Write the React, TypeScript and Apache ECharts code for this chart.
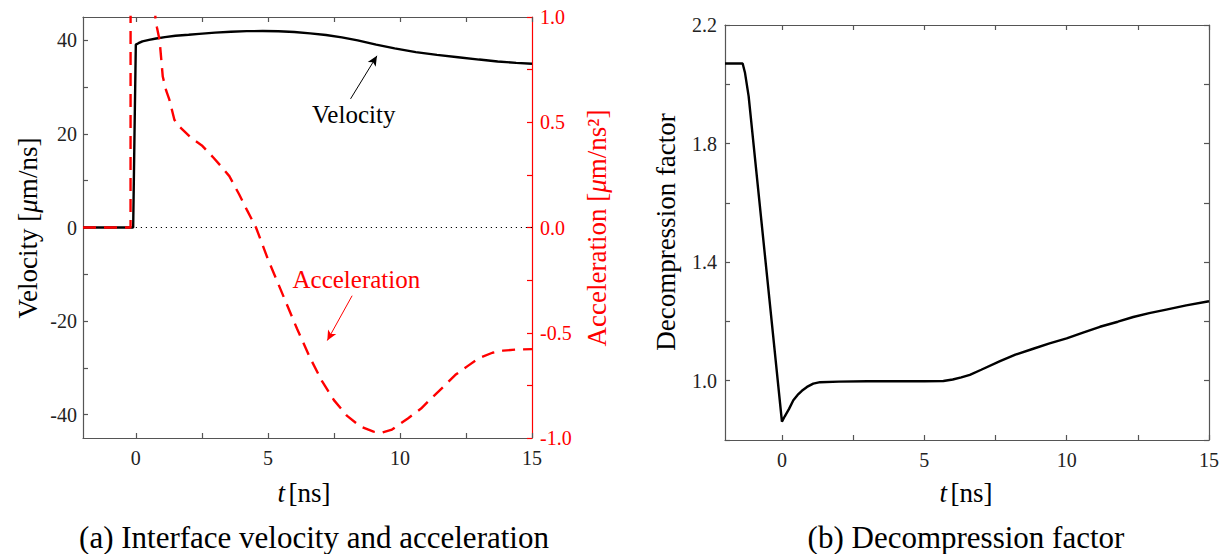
import React, { useEffect, useRef } from "react";
import * as echarts from "echarts";

// ---- Data ----
const velT = [-2, -0.1, -0.05, 0, 0.1, 0.25, 0.5, 0.77, 1.1, 1.5, 2.0, 2.4, 3.0, 3.6, 4.2, 4.8, 5.4, 6.0, 6.6, 7.2, 7.8, 8.4, 9.1, 9.8, 10.6, 11.4, 12.2, 13.0, 13.7, 14.4, 15];
const velV = [0, 0, 20, 39.1, 39.4, 39.8, 40.1, 40.4, 40.7, 41.0, 41.2, 41.4, 41.65, 41.85, 41.97, 42.0, 41.95, 41.8, 41.5, 41.15, 40.65, 40.0, 39.1, 38.3, 37.5, 36.9, 36.4, 35.9, 35.5, 35.2, 35.0];

const accT = [-2, -0.2, -0.19, 0.62, 0.74, 0.8, 0.9, 1.02, 1.15, 1.27, 1.46, 1.6, 1.77, 2.09, 2.5, 2.9, 3.2, 3.54, 3.91, 4.2, 4.55, 5.0, 5.5, 6.1, 6.6, 7.05, 7.5, 8.0, 8.5, 9.0, 9.3, 9.7, 10.3, 10.8, 11.2, 11.7, 12.1, 12.6, 13.0, 13.5, 13.9, 14.4, 15];
const accA = [0, 0, 6, 6, 1.0, 0.95, 0.89, 0.717, 0.65, 0.607, 0.512, 0.485, 0.465, 0.426, 0.39, 0.337, 0.295, 0.244, 0.158, 0.085, 0.0, -0.15, -0.3, -0.48, -0.62, -0.73, -0.82, -0.895, -0.945, -0.97, -0.975, -0.96, -0.907, -0.86, -0.81, -0.75, -0.70, -0.655, -0.62, -0.595, -0.585, -0.58, -0.578];

const decT = [-2, -1.38, -1.3, -1.17, 0, 0.1, 0.25, 0.4, 0.55, 0.7, 0.88, 1.1, 1.34, 2, 3, 4.15, 5, 5.67, 6.0, 6.3, 6.6, 7.0, 7.66, 8.2, 8.8, 9.4, 10, 10.6, 11.17, 11.8, 12.34, 12.9, 13.5, 14.2, 15];
const decD = [2.07, 2.07, 2.04, 1.96, 0.862, 0.88, 0.905, 0.934, 0.952, 0.966, 0.979, 0.99, 0.995, 0.997, 0.998, 0.998, 0.998, 0.999, 1.004, 1.011, 1.02, 1.037, 1.066, 1.088, 1.107, 1.126, 1.143, 1.163, 1.182, 1.199, 1.215, 1.228, 1.24, 1.254, 1.268];

const zeroLineT = [0, 15];

const xTickVals = [0, 2.5, 5, 7.5, 10, 12.5, 15];
const xLabelVals = [0, 5, 10, 15];
const velTickVals = [-40, -30, -20, -10, 0, 10, 20, 30, 40];
const velLabelVals = [-40, -20, 0, 20, 40];
const accTickVals = [-1, -0.75, -0.5, -0.25, 0, 0.25, 0.5, 0.75, 1];
const accLabelVals = [-1, -0.5, 0, 0.5, 1];
const decTickVals = [0.8, 1.0, 1.2, 1.4, 1.6, 1.8, 2.0, 2.2];
const decLabelVals = [1.0, 1.4, 1.8, 2.2];

const FONT = '"Liberation Serif", "Times New Roman", serif';
const AX = "#555";
const RED = "#ff0000";
const TITLE_SIZE = 27;

const zip = (a: number[], b: number[]) => a.map((x, i) => [x, b[i]]);

export default function App() {
  const ref = useRef<HTMLDivElement>(null);
  useEffect(() => {
    if (!ref.current) return;
    const chart = echarts.init(ref.current, null, { renderer: "svg" });

    const tickStyle = (color: string) => ({
      show: true,
      inside: true,
      length: 5,
      lineStyle: { color, width: 1.2 },
    });

    const xAxisBottom = (grid: number) => ({
      type: "value",
      gridIndex: grid,
      min: -2,
      max: 15,
      position: "bottom",
      axisLine: { show: true, onZero: false, lineStyle: { color: AX, width: 1.2 } },
      axisTick: { ...tickStyle(AX), customValues: xTickVals },
      axisLabel: {
        show: true,
        customValues: xLabelVals,
        margin: 10,
        fontFamily: FONT,
        fontSize: 20,
        color: "#222",
      },
      splitLine: { show: false },
    });
    const xAxisTop = (grid: number) => ({
      type: "value",
      gridIndex: grid,
      min: -2,
      max: 15,
      position: "top",
      axisLine: { show: true, onZero: false, lineStyle: { color: AX, width: 1.2 } },
      axisTick: { ...tickStyle(AX), customValues: xTickVals },
      axisLabel: { show: false },
      splitLine: { show: false },
    });

    const option: any = {
      animation: false,
      backgroundColor: "#fff",
      grid: [
        { left: 83, top: 17, width: 449, height: 421 },
        { left: 725, top: 25, width: 484, height: 415 },
      ],
      xAxis: [xAxisBottom(0), xAxisTop(0), xAxisBottom(1), xAxisTop(1)],
      yAxis: [
        {
          type: "value",
          gridIndex: 0,
          min: -45,
          max: 45,
          position: "left",
          axisLine: { show: true, onZero: false, lineStyle: { color: AX, width: 1.2 } },
          axisTick: { ...tickStyle(AX), customValues: velTickVals },
          axisLabel: {
            customValues: velLabelVals,
            margin: 6,
            fontFamily: FONT,
            fontSize: 20,
            color: "#222",
            formatter: (v: number) => String(v),
          },
          splitLine: { show: false },
        },
        {
          type: "value",
          gridIndex: 0,
          min: -1,
          max: 1,
          position: "right",
          axisLine: { show: true, onZero: false, lineStyle: { color: RED, width: 1.2 } },
          axisTick: { ...tickStyle(RED), customValues: accTickVals },
          axisLabel: {
            customValues: accLabelVals,
            margin: 8,
            fontFamily: FONT,
            fontSize: 20,
            color: RED,
            formatter: (v: number) => v.toFixed(1),
          },
          splitLine: { show: false },
        },
        {
          type: "value",
          gridIndex: 1,
          min: 0.8,
          max: 2.2,
          position: "left",
          axisLine: { show: true, onZero: false, lineStyle: { color: AX, width: 1.2 } },
          axisTick: { ...tickStyle(AX), customValues: decTickVals },
          axisLabel: {
            customValues: decLabelVals,
            margin: 8,
            fontFamily: FONT,
            fontSize: 20,
            color: "#222",
            formatter: (v: number) => v.toFixed(1),
          },
          splitLine: { show: false },
        },
        {
          type: "value",
          gridIndex: 1,
          min: 0.8,
          max: 2.2,
          position: "right",
          axisLine: { show: true, onZero: false, lineStyle: { color: AX, width: 1.2 } },
          axisTick: { ...tickStyle(AX), customValues: decTickVals },
          axisLabel: { show: false },
          splitLine: { show: false },
        },
      ],
      series: [
        {
          name: "zero",
          type: "line",
          xAxisIndex: 0,
          yAxisIndex: 0,
          data: zeroLineT.map((t) => [t, 0]),
          symbol: "none",
          lineStyle: { color: "#000", width: 1, type: [1.2, 3.8] },
          silent: true,
        },
        {
          name: "Velocity",
          type: "line",
          xAxisIndex: 0,
          yAxisIndex: 0,
          data: zip(velT, velV),
          symbol: "none",
          lineStyle: { color: "#000", width: 2.4 },
          clip: true,
          markLine: {
            silent: true,
            symbol: ["none", "arrow"],
            symbolSize: [7, 10],
            label: { show: false },
            lineStyle: { color: "#000", width: 1, type: "solid" },
            data: [[{ coord: [8.13, 27.5] }, { coord: [9.13, 36.7] }]],
          },
        },
        {
          name: "Acceleration",
          type: "line",
          xAxisIndex: 0,
          yAxisIndex: 1,
          data: zip(accT, accA),
          symbol: "none",
          lineStyle: { color: RED, width: 2.4, type: [13, 8] },
          clip: true,
          markLine: {
            silent: true,
            symbol: ["none", "arrow"],
            symbolSize: [7, 10],
            label: { show: false },
            lineStyle: { color: RED, width: 1, type: "solid" },
            data: [[{ coord: [8.19, -0.324] }, { coord: [7.25, -0.537] }]],
          },
        },
        {
          name: "Decompression factor",
          type: "line",
          xAxisIndex: 2,
          yAxisIndex: 2,
          data: zip(decT, decD),
          symbol: "none",
          lineStyle: { color: "#000", width: 2.4 },
        },
      ],
    };
    chart.setOption(option);

    const pV = chart.convertToPixel({ xAxisIndex: 0, yAxisIndex: 0 }, [8.25, 24.2]) as number[];
    const pA = chart.convertToPixel({ xAxisIndex: 0, yAxisIndex: 1 }, [8.35, -0.245]) as number[];

    const richBase = (size: number, color: string) => ({
      n: { fontFamily: FONT, fontSize: size, fill: color },
      i: { fontFamily: FONT, fontSize: size, fontStyle: "italic", fill: color },
    });

    chart.setOption({
      graphic: [
        {
          type: "text",
          x: pV[0],
          y: pV[1],
          style: { text: "Velocity", fontFamily: FONT, fontSize: 25, fill: "#000", align: "center", verticalAlign: "middle" },
        },
        {
          type: "text",
          x: pA[0],
          y: pA[1],
          style: { text: "Acceleration", fontFamily: FONT, fontSize: 25, fill: RED, align: "center", verticalAlign: "middle" },
        },
        {
          type: "text",
          x: 28,
          y: 228,
          rotation: Math.PI / 2,
          style: {
            text: "{n|Velocity [}{i|μ}{n|m/ns]}",
            rich: richBase(TITLE_SIZE, "#000"),
            align: "center",
            verticalAlign: "middle",
            fill: "#000",
          },
        },
        {
          type: "text",
          x: 597,
          y: 228,
          rotation: Math.PI / 2,
          style: {
            text: "{n|Acceleration [}{i|μ}{n|m/ns²]}",
            rich: richBase(TITLE_SIZE, RED),
            align: "center",
            verticalAlign: "middle",
            fill: RED,
          },
        },
        {
          type: "text",
          x: 666,
          y: 232,
          rotation: Math.PI / 2,
          style: {
            text: "Decompression factor",
            fontFamily: FONT,
            fontSize: TITLE_SIZE,
            fill: "#000",
            align: "center",
            verticalAlign: "middle",
          },
        },
        {
          type: "text",
          x: 304,
          y: 493,
          style: { text: "{i|t} {n|[ns]}", rich: richBase(TITLE_SIZE, "#000"), align: "center", verticalAlign: "middle", fill: "#000" },
        },
        {
          type: "text",
          x: 966,
          y: 493,
          style: { text: "{i|t} {n|[ns]}", rich: richBase(TITLE_SIZE, "#000"), align: "center", verticalAlign: "middle", fill: "#000" },
        },
        {
          type: "text",
          x: 314,
          y: 537,
          style: {
            text: "(a) Interface velocity and acceleration",
            fontFamily: FONT,
            fontSize: 31,
            fill: "#000",
            align: "center",
            verticalAlign: "middle",
          },
        },
        {
          type: "text",
          x: 966,
          y: 537,
          style: {
            text: "(b) Decompression factor",
            fontFamily: FONT,
            fontSize: 31,
            fill: "#000",
            align: "center",
            verticalAlign: "middle",
          },
        },
      ],
    });

    return () => chart.dispose();
  }, []);

  return (
    <div
      ref={ref}
      style={{ position: "absolute", left: 0, top: 0, width: 1227, height: 554, background: "#fff" }}
    />
  );
}
